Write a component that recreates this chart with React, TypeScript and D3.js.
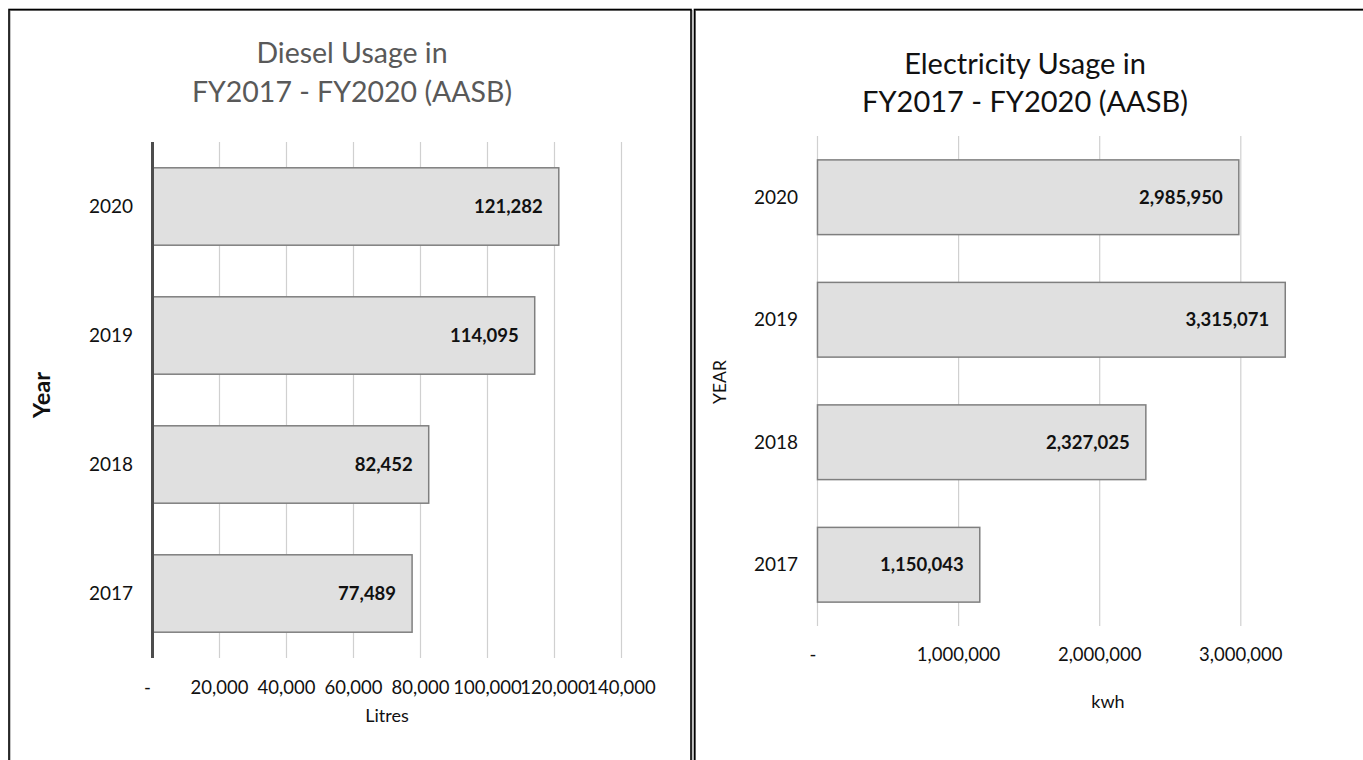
import React from 'react';
import * as d3 from 'd3';

const years = ['2020', '2019', '2018', '2017'];
const dieselValues = [121282, 114095, 82452, 77489];
const electricityValues = [2985950, 3315071, 2327025, 1150043];
const dieselTicks = [0, 20000, 40000, 60000, 80000, 100000, 120000, 140000];
const electricityTicks = [0, 1000000, 2000000, 3000000];

const FONT = 'Lato, "Open Sans", sans-serif';
const fmt = (v: number) => (v === 0 ? '-' : d3.format(',')(v));

function DieselChart() {
  const x = d3.scaleLinear().domain([0, 140000]).range([152.5, 621.5]);
  const y = d3.scaleBand<string>().domain(years).range([142, 658]).paddingInner(0.4).paddingOuter(0.2);
  return (
    <g>
      <text x={352} y={63} textAnchor="middle" fontSize={28.5} fill="#595959" fontFamily={FONT}>Diesel Usage in</text>
      <text x={352} y={102} textAnchor="middle" fontSize={28.5} fill="#595959" fontFamily={FONT}>FY2017 - FY2020 (AASB)</text>
      {dieselTicks.filter(t => t > 0).map(t => (
        <line key={t} x1={x(t)} x2={x(t)} y1={142} y2={658} stroke="#d0d0d0" strokeWidth={1.2} />
      ))}
      {years.map((yr, i) => (
        <rect key={yr} x={x(0)} y={y(yr)!} width={x(dieselValues[i]) - x(0)} height={y.bandwidth()}
          fill="#e0e0e0" stroke="#7f7f7f" strokeWidth={1.5} />
      ))}
      <line x1={x(0)} x2={x(0)} y1={142} y2={658} stroke="#4d4d4d" strokeWidth={3} />
      {years.map((yr, i) => (
        <text key={yr} x={x(dieselValues[i]) - 16} y={y(yr)! + y.bandwidth() / 2} dy="0.35em" textAnchor="end"
          fontSize={18.5} fontWeight="bold" fill="#111" fontFamily={FONT}>{fmt(dieselValues[i])}</text>
      ))}
      {years.map(yr => (
        <text key={yr} x={133} y={y(yr)! + y.bandwidth() / 2} dy="0.35em" textAnchor="end"
          fontSize={19} fill="#111" fontFamily={FONT}>{yr}</text>
      ))}
      {dieselTicks.map(t => (
        <text key={t} x={t === 0 ? x(t) - 5 : x(t)} y={688} dy="0.35em" textAnchor="middle"
          fontSize={18.5} fill="#111" fontFamily={FONT}>{fmt(t)}</text>
      ))}
      <text x={387} y={716} dy="0.35em" textAnchor="middle" fontSize={18} fill="#111" fontFamily={FONT}>Litres</text>
      <text transform="translate(42,395) rotate(-90)" dy="0.35em" textAnchor="middle" fontSize={23.5}
        fontWeight="bold" fill="#111" fontFamily={FONT}>Year</text>
    </g>
  );
}

function ElectricityChart() {
  const x = d3.scaleLinear().domain([0, 3000000]).range([817.5, 1240.8]);
  const y = d3.scaleBand<string>().domain(years).range([136, 626]).paddingInner(0.39).paddingOuter(0.195);
  return (
    <g>
      <text x={1025} y={74} textAnchor="middle" fontSize={29} fill="#111" fontFamily={FONT}>Electricity Usage in</text>
      <text x={1025} y={112} textAnchor="middle" fontSize={29} fill="#111" fontFamily={FONT}>FY2017 - FY2020 (AASB)</text>
      {electricityTicks.map(t => (
        <line key={t} x1={x(t)} x2={x(t)} y1={136} y2={626} stroke="#d0d0d0" strokeWidth={1.2} />
      ))}
      {years.map((yr, i) => (
        <rect key={yr} x={x(0)} y={y(yr)!} width={x(electricityValues[i]) - x(0)} height={y.bandwidth()}
          fill="#e0e0e0" stroke="#7f7f7f" strokeWidth={1.5} />
      ))}
      {years.map((yr, i) => (
        <text key={yr} x={x(electricityValues[i]) - 16} y={y(yr)! + y.bandwidth() / 2} dy="0.35em" textAnchor="end"
          fontSize={18.5} fontWeight="bold" fill="#111" fontFamily={FONT}>{fmt(electricityValues[i])}</text>
      ))}
      {years.map(yr => (
        <text key={yr} x={798} y={y(yr)! + y.bandwidth() / 2} dy="0.35em" textAnchor="end"
          fontSize={19} fill="#111" fontFamily={FONT}>{yr}</text>
      ))}
      {electricityTicks.map(t => (
        <text key={t} x={t === 0 ? x(t) - 4.5 : x(t)} y={655} dy="0.35em" textAnchor="middle"
          fontSize={18.5} fill="#111" fontFamily={FONT}>{fmt(t)}</text>
      ))}
      <text x={1108} y={702} dy="0.35em" textAnchor="middle" fontSize={18} fill="#111" fontFamily={FONT}>kwh</text>
      <text transform="translate(720,382) rotate(-90)" dy="0.35em" textAnchor="middle" fontSize={17.5}
        fill="#111" fontFamily={FONT}>YEAR</text>
    </g>
  );
}

export default function App() {
  return (
    <svg width={1363} height={760} style={{ position: 'absolute', left: 0, top: 0, background: '#fff' }}>
      <rect x={0} y={0} width={1363} height={760} fill="#ffffff" />
      <rect x={10} y={10.5} width={682} height={800} fill="none" stroke="#888" strokeWidth={1} />
      <rect x={9} y={9.5} width={682} height={800} fill="none" stroke="#000" strokeWidth={1.6} />
      <rect x={695.5} y={10.5} width={700} height={800} fill="none" stroke="#888" strokeWidth={1} />
      <rect x={694.5} y={9.5} width={700} height={800} fill="none" stroke="#000" strokeWidth={1.6} />
      <DieselChart />
      <ElectricityChart />
    </svg>
  );
}
